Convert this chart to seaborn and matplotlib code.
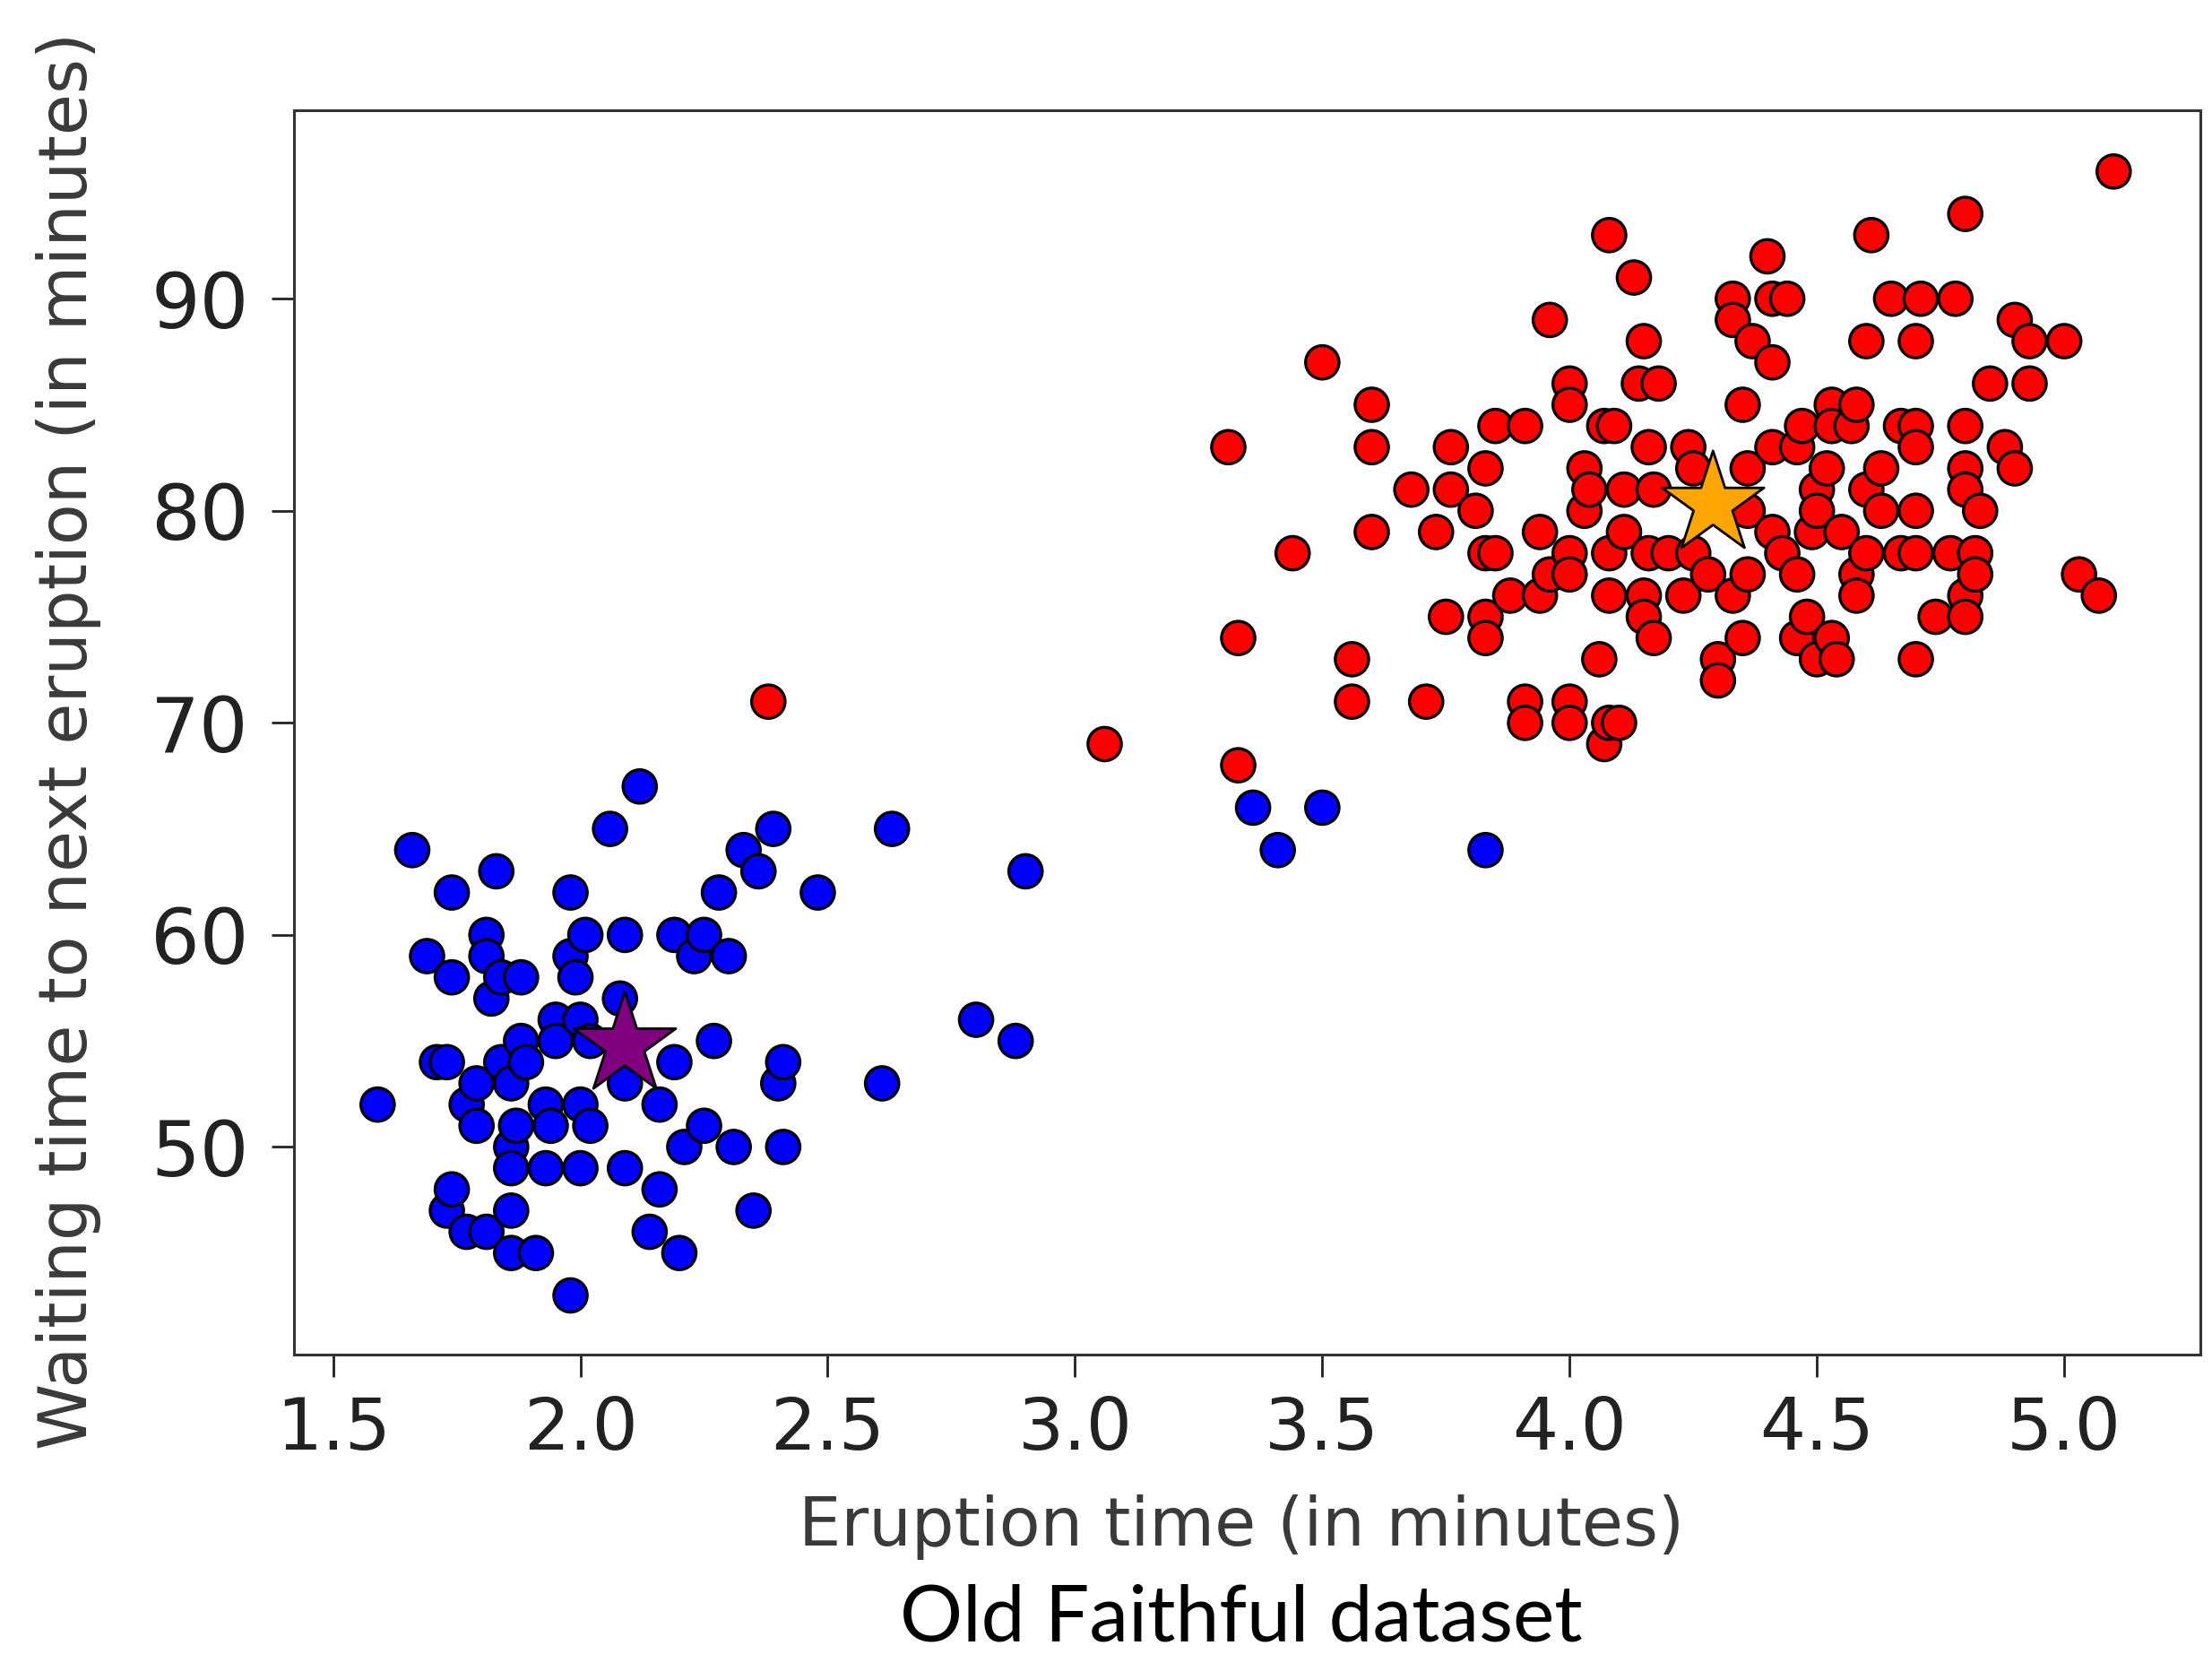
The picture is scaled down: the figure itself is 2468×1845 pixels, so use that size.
import pandas as pd
import matplotlib.pyplot as plt
import seaborn as sns

# short-eruption cluster (blue)
blue_eruptions = [1.59, 1.66, 1.69, 1.71, 1.73, 1.73, 1.74, 1.74, 1.74, 1.77, 1.77, 1.79, 1.79,
                  1.81, 1.81, 1.81, 1.82, 1.83, 1.84, 1.84, 1.86, 1.86, 1.86, 1.86, 1.86, 1.87,
                  1.88, 1.88, 1.89, 1.91, 1.93, 1.93, 1.94, 1.95, 1.95, 1.98, 1.98, 1.98, 1.99,
                  2.00, 2.00, 2.00, 2.01, 2.02, 2.02, 2.06, 2.08, 2.09, 2.09, 2.09, 2.12, 2.14,
                  2.16, 2.16, 2.19, 2.19, 2.20, 2.21, 2.23, 2.25, 2.25, 2.27, 2.28, 2.30, 2.31,
                  2.33, 2.35, 2.36, 2.39, 2.40, 2.41, 2.41, 2.48, 2.61, 2.63, 2.80, 2.88, 2.90,
                  3.36, 3.41, 3.50, 3.83]
blue_waiting = [52, 64, 59, 54, 54, 47, 62, 58, 48, 52, 46, 53, 51,
                60, 59, 46, 57, 63, 58, 54, 53, 50, 49, 47, 45, 51,
                58, 55, 54, 45, 52, 49, 51, 56, 55, 62, 59, 43, 58,
                56, 52, 49, 60, 55, 51, 65, 57, 60, 53, 49, 67, 46,
                52, 48, 60, 54, 45, 50, 59, 60, 51, 55, 62, 59, 50,
                64, 47, 63, 65, 53, 54, 50, 62, 53, 65, 56, 55, 63,
                66, 64, 66, 64]

# long-eruption cluster (red)
red_eruptions = [2.38, 3.06, 3.33, 3.33, 3.31, 3.44, 3.50, 3.56, 3.56, 3.60, 3.60, 3.60, 3.68,
                 3.71, 3.73, 3.75, 3.76, 3.76, 3.81, 3.83, 3.83, 3.85, 3.83, 3.83, 3.85, 3.88,
                 3.91, 3.91, 3.91, 3.94, 3.94, 3.96, 3.96, 4.00, 4.00, 4.00, 4.00, 4.00, 4.00,
                 4.03, 4.03, 4.04, 4.06, 4.07, 4.07, 4.08, 4.08, 4.08, 4.08, 4.09, 4.10, 4.11,
                 4.11, 4.13, 4.14, 4.15, 4.15, 4.15, 4.16, 4.16, 4.17, 4.17, 4.18, 4.20, 4.23,
                 4.24, 4.25, 4.25, 4.28, 4.30, 4.30, 4.33, 4.33, 4.33, 4.35, 4.35, 4.36, 4.36,
                 4.36, 4.37, 4.40, 4.41, 4.41, 4.41, 4.41, 4.43, 4.44, 4.46, 4.46, 4.46, 4.47,
                 4.48, 4.49, 4.50, 4.50, 4.50, 4.52, 4.53, 4.53, 4.53, 4.54, 4.55, 4.57, 4.58,
                 4.58, 4.58, 4.60, 4.60, 4.60, 4.61, 4.63, 4.63, 4.65, 4.67, 4.67, 4.70, 4.70,
                 4.70, 4.70, 4.70, 4.70, 4.71, 4.74, 4.77, 4.78, 4.80, 4.80, 4.80, 4.80, 4.80,
                 4.80, 4.82, 4.82, 4.83, 4.85, 4.88, 4.90, 4.90, 4.93, 4.93, 5.00, 5.03, 5.07,
                 5.10]
red_waiting = [71, 69, 68, 74, 83, 78, 87, 73, 71, 85, 83, 79, 81,
               71, 79, 75, 83, 81, 80, 82, 78, 78, 75, 74, 84, 76,
               84, 71, 70, 79, 76, 89, 77, 86, 85, 78, 77, 71, 70,
               82, 80, 81, 73, 69, 84, 93, 78, 76, 70, 84, 70, 81,
               79, 91, 86, 88, 76, 75, 83, 78, 81, 74, 86, 78, 76,
               83, 82, 78, 77, 73, 72, 90, 89, 76, 85, 74, 82, 80,
               77, 88, 92, 90, 87, 83, 79, 78, 90, 83, 77, 74, 84,
               75, 79, 81, 80, 73, 82, 85, 84, 74, 73, 79, 84, 85,
               77, 76, 88, 81, 78, 93, 82, 80, 90, 84, 78, 88, 84,
               83, 80, 78, 73, 90, 75, 78, 90, 94, 84, 82, 81, 76,
               75, 78, 77, 80, 86, 83, 89, 82, 88, 86, 88, 77, 76,
               96]

# k-means centroids
centroid_eruptions = [2.09, 4.29]
centroid_waiting = [54.8, 80.3]
centroid_names = ['short', 'long']

df = pd.DataFrame({
    'eruptions': blue_eruptions + red_eruptions,
    'waiting': blue_waiting + red_waiting,
    'cluster': ['short'] * len(blue_eruptions) + ['long'] * len(red_eruptions),
})
cent = pd.DataFrame({'eruptions': centroid_eruptions, 'waiting': centroid_waiting,
                     'cluster': centroid_names})

fig = plt.figure(figsize=(24.68, 18.45), dpi=100)
ax = fig.add_axes([0.1327, 0.1809, 0.8622, 0.7526])

sns.scatterplot(data=df, x='eruptions', y='waiting', hue='cluster',
                palette={'short': 'blue', 'long': 'red'}, s=720,
                edgecolor='black', linewidth=2.4, legend=False, ax=ax)
sns.scatterplot(data=cent, x='eruptions', y='waiting', hue='cluster',
                palette={'short': 'purple', 'long': 'orange'}, marker='*', s=7400,
                edgecolor='black', linewidth=2, legend=False, ax=ax, zorder=5)

ax.set_xlim(1.42, 5.276)
ax.set_ylim(40.2, 98.9)
ax.set_xticks([1.5, 2.0, 2.5, 3.0, 3.5, 4.0, 4.5, 5.0])
ax.set_yticks([50, 60, 70, 80, 90])
ax.tick_params(axis='x', labelsize=58, length=18, width=2, pad=14, colors='#222222')
ax.tick_params(axis='y', labelsize=62, length=18, width=2, pad=18, colors='#222222')
for sp in ax.spines.values():
    sp.set_linewidth(2.2)
    sp.set_color('#333333')

ax.set_xlabel('Eruption time (in minutes)', fontsize=54, color='#3a3a3a')
ax.set_ylabel('Waiting time to next eruption (in minutes)', fontsize=54, color='#3a3a3a')
ax.xaxis.set_label_coords(0.497, -0.112)
ax.yaxis.set_label_coords(-0.101, 0.493)

fig.text(0.561, 0.008, 'Old Faithful dataset', fontsize=63, family='Lato',
         ha='center', va='baseline', color='black')

fig.savefig('out.png', dpi=100)
